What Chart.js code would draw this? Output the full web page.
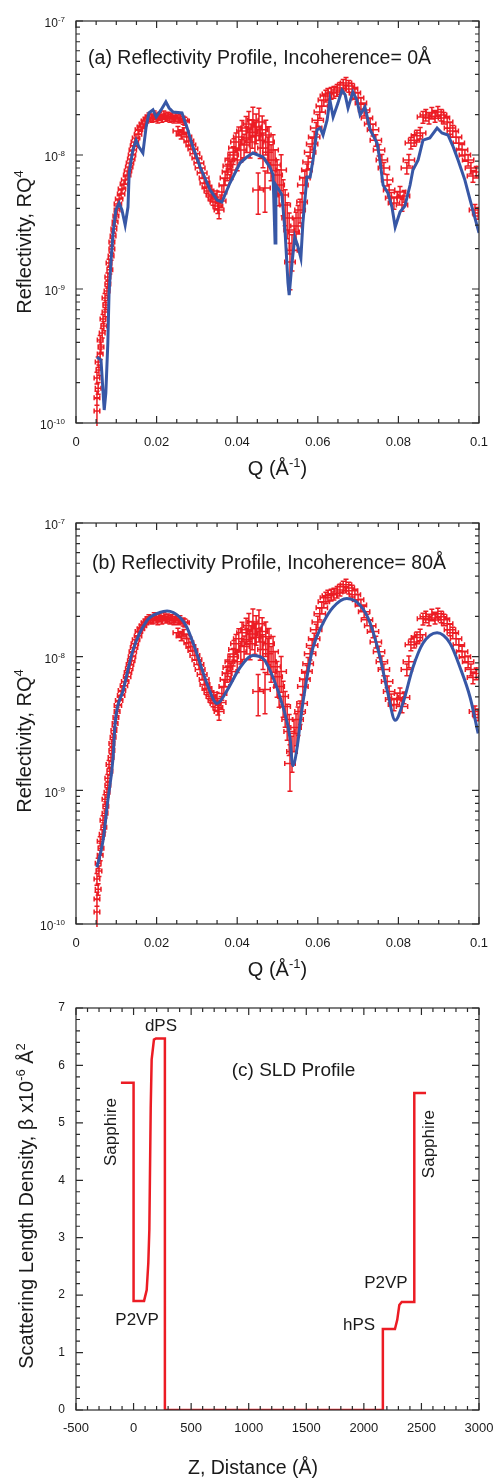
<!DOCTYPE html>
<html>
<head>
<meta charset="utf-8">
<script src="https://cdn.jsdelivr.net/npm/chart.js@4.4.1/dist/chart.umd.min.js"></script>
<style>
  html, body { margin: 0; padding: 0; background: #fff; }
  #wrap { position: relative; width: 493px; height: 1479px; }
  canvas { position: absolute; left: 0; }
</style>
</head>
<body>
<div id="wrap">
  <canvas id="chartA" width="493" height="490" style="top:0px"></canvas>
  <canvas id="chartB" width="493" height="490" style="top:490px"></canvas>
  <canvas id="chartC" width="493" height="499" style="top:980px"></canvas>
</div>
<script>
// measured reflectivity (same data in panels a and b)
const qData = [
  0.0052,0.0052,0.0055,0.0052,0.0057,0.0055,0.0060,0.0062,0.0060,0.0065,0.0069,0.0067,0.0072,0.0074,0.0072,0.0077,0.0079,0.0079,0.0084,0.0082,0.0087,0.0089,0.0089,0.0092,0.0094,0.0097,0.0099,0.0102,
  0.0104,0.0107,0.0112,0.0114,0.0119,0.0122,0.0127,0.0129,0.0132,0.0134,0.0137,0.0139,0.0141,0.0144,0.0146,0.0149,0.0154,0.0156,0.0161,0.0166,0.0171,0.0176,0.0181,0.0189,0.0194,0.0199,0.0203,0.0208,0.0213,0.0218,0.0223,0.0228,0.0233,0.0238,0.0243,0.0248,0.0253,0.0258,0.0266,0.0270,
  0.0253,0.0261,0.0268,0.0275,0.0280,0.0285,0.0290,0.0295,0.0300,0.0305,0.0308,0.0313,0.0318,0.0320,0.0325,0.0330,0.0335,0.0340,0.0345,0.0350,0.0352,0.0355,0.0360,0.0362,0.0367,0.0370,0.0375,0.0377,0.0382,0.0385,
  0.0390,0.0392,0.0397,0.0400,0.0404,0.0409,0.0412,0.0417,0.0422,0.0424,0.0429,0.0432,0.0437,0.0439,0.0444,0.0447,0.0452,0.0454,0.0457,0.0462,0.0464,0.0469,0.0471,0.0476,0.0479,0.0484,0.0489,0.0494,0.0499,0.0504,0.0509,0.0514,0.0519,0.0524,0.0529,0.0531,0.0536,0.0541,0.0546,0.0551,0.0556,0.0561,0.0563,0.0568,0.0573,0.0576,
  0.0581,0.0586,0.0591,0.0596,0.0600,0.0605,0.0610,0.0615,0.0620,0.0625,0.0633,0.0640,0.0648,0.0655,0.0663,0.0670,0.0677,0.0685,0.0692,0.0700,0.0707,0.0715,0.0722,0.0730,0.0737,0.0744,0.0752,0.0759,0.0764,0.0772,0.0777,0.0782,0.0789,0.0797,0.0804,0.0809,0.0814,0.0821,0.0826,0.0831,0.0839,0.0846,0.0854,0.0861,0.0868,0.0876,0.0883,0.0891,0.0898,0.0906,0.0913,0.0921,0.0928,0.0935,0.0943,0.0950,0.0958,0.0965,0.0973,0.0980,0.0985,0.0993,0.0990,0.0998
];
const rData = [
  1.23e-10,1.54e-10,1.82e-10,2.17e-10,2.49e-10,2.85e-10,3.27e-10,3.69e-10,4.16e-10,4.69e-10,5.30e-10,5.97e-10,6.74e-10,7.60e-10,8.57e-10,9.66e-10,1.09e-9,1.23e-9,1.39e-9,1.56e-9,1.76e-9,1.99e-9,2.24e-9,2.49e-9,2.80e-9,3.16e-9,3.51e-9,3.89e-9,
  4.31e-9,4.69e-9,5.12e-9,5.58e-9,6.07e-9,6.51e-9,7.09e-9,7.60e-9,8.13e-9,8.72e-9,9.33e-9,1.00e-8,1.09e-8,1.17e-8,1.25e-8,1.34e-8,1.43e-8,1.54e-8,1.62e-8,1.70e-8,1.79e-8,1.86e-8,1.92e-8,1.89e-8,1.99e-8,1.92e-8,1.86e-8,1.95e-8,1.89e-8,1.99e-8,1.92e-8,1.95e-8,1.89e-8,1.92e-8,1.86e-8,1.92e-8,1.86e-8,1.89e-8,1.82e-8,1.79e-8,
  1.51e-8,1.43e-8,1.48e-8,1.36e-8,1.27e-8,1.19e-8,1.11e-8,1.02e-8,9.50e-9,8.72e-9,8.00e-9,7.34e-9,6.74e-9,6.18e-9,5.77e-9,5.39e-9,5.03e-9,4.69e-9,4.46e-9,4.86e-9,4.16e-9,3.89e-9,4.54e-9,5.30e-9,5.97e-9,6.74e-9,7.47e-9,8.28e-9,9.18e-9,7.73e-9,
  1.00e-8,1.13e-8,1.25e-8,9.18e-9,1.36e-8,1.09e-8,1.51e-8,1.19e-8,1.59e-8,1.34e-8,1.70e-8,1.25e-8,1.48e-8,1.82e-8,1.39e-8,1.62e-8,5.48e-9,1.76e-8,1.29e-8,1.54e-8,1.13e-8,5.67e-9,1.41e-8,1.05e-8,1.25e-8,9.18e-9,1.09e-8,8.42e-9,7.09e-9,5.97e-9,7.73e-9,5.03e-9,4.23e-9,3.39e-9,2.76e-9,1.59e-9,1.95e-9,2.66e-9,2.95e-9,3.39e-9,3.89e-9,4.46e-9,5.97e-9,6.74e-9,7.73e-9,8.87e-9,
  1.05e-8,1.21e-8,1.36e-8,1.59e-8,1.82e-8,2.09e-8,2.32e-8,2.57e-8,2.76e-8,2.85e-8,2.90e-8,2.95e-8,3.05e-8,3.16e-8,3.33e-8,3.45e-8,3.27e-8,3.11e-8,2.90e-8,2.66e-8,2.44e-8,2.17e-8,1.89e-8,1.70e-8,1.54e-8,1.29e-8,1.09e-8,9.18e-9,8.00e-9,6.51e-9,5.48e-9,4.78e-9,4.38e-9,4.86e-9,5.30e-9,4.23e-9,4.94e-9,8.00e-9,9.18e-9,1.23e-8,1.29e-8,1.39e-8,1.46e-8,1.92e-8,1.99e-8,1.89e-8,2.06e-8,1.95e-8,2.09e-8,1.99e-8,1.89e-8,1.76e-8,1.59e-8,1.51e-8,1.36e-8,1.23e-8,1.09e-8,1.00e-8,9.18e-9,8.00e-9,6.97e-9,7.47e-9,3.89e-9,3.69e-9
];
// relative error of R, in percent
const rErrPct = [
  24,12,10,10,9,9,9,9,8,8,8,8,8,8,8,8,7,7,7,7,7,7,7,7,7,7,7,7,
  7,7,7,7,7,7,7,7,7,7,7,7,7,7,7,7,7,7,7,7,7,7,7,7,7,7,7,7,7,7,7,7,7,7,7,7,7,7,7,7,
  8,8,8,8,8,8,8,8,8,8,8,9,9,9,10,10,10,10,11,11,12,14,11,11,12,12,14,14,14,15,
  15,17,17,17,19,19,20,20,22,22,24,24,24,25,25,25,34,27,27,27,29,34,29,30,30,30,30,30,30,30,30,30,30,30,34,38,30,27,27,24,20,17,14,12,11,11,
  10,10,10,10,10,10,10,10,10,10,10,10,10,10,10,10,10,10,10,10,10,10,10,10,10,10,10,10,10,10,10,10,10,10,10,10,10,10,10,10,10,10,10,10,10,10,10,10,10,10,10,10,10,10,10,10,10,10,10,10,10,10,10,10
];
// Q resolution (half width), 1/A
const qErr = [
  0.0007,0.0007,0.0007,0.0007,0.0007,0.0007,0.0007,0.0007,0.0007,0.0007,0.0007,0.0007,0.0007,0.0007,0.0007,0.0007,0.0007,0.0007,0.0007,0.0007,0.0007,0.0007,0.0007,0.0007,0.0007,0.0007,0.0007,0.0007,
  0.0009,0.0009,0.0009,0.0009,0.0009,0.0009,0.0009,0.0009,0.0009,0.0009,0.0009,0.0009,0.0009,0.0009,0.0009,0.0009,0.0009,0.0009,0.0009,0.0009,0.0009,0.0009,0.0009,
  0.0011,0.0011,0.0011,0.0011,0.0011,0.0011,0.0011,0.0011,0.0011,0.0011,0.0011,0.0011,0.0011,0.0011,0.0011,0.0011,0.0011,
  0.0012,0.0012,0.0012,0.0012,0.0012,0.0012,0.0012,0.0012,0.0012,0.0012,0.0012,0.0012,0.0012,0.0012,0.0012,0.0012,0.0012,0.0012,0.0012,0.0012,0.0012,0.0012,0.0012,0.0012,0.0012,0.0012,0.0012,0.0012,0.0012,0.0012,
  0.0013,0.0013,0.0013,0.0013,0.0013,0.0013,0.0013,0.0013,0.0013,0.0013,0.0013,0.0013,0.0013,0.0013,0.0013,0.0013,0.0013,0.0013,0.0013,0.0013,0.0013,0.0013,0.0013,0.0013,0.0013,0.0013,0.0013,0.0013,0.0013,0.0013,0.0013,0.0013,0.0013,0.0013,0.0013,0.0013,0.0013,0.0013,0.0013,0.0013,0.0013,0.0013,0.0013,0.0013,0.0013,0.0013,
  0.0014,0.0014,0.0014,0.0014,0.0014,0.0014,0.0014,0.0014,0.0014,0.0014,0.0014,0.0014,0.0014,0.0014,0.0014,0.0014,0.0014,0.0014,0.0014,0.0014,0.0014,0.0014,0.0014,0.0014,0.0014,0.0014,0.0014,0.0014,0.0014,0.0014,0.0014,0.0014,
  0.0014,0.0014,0.0014,0.0014,0.0014,0.0014,0.0014,0.0014,0.0014,0.0014,0.0014,0.0014,0.0014,0.0014,0.0014,0.0014,0.0014,0.0014,0.0014,0.0014,0.0014,0.0014,0.0014,0.0014,0.0014,0.0014,0.0014,0.0014,0.0014,0.0014,0.0014,0.0014
];

// fit, incoherence 0 A
const fitAq = [0.0052,0.0062,0.0070,0.0074,0.0079,0.0082,0.0087,0.0092,0.0099,0.0107,0.0114,0.0122,0.0129,0.0132,0.0141,0.0149,0.0156,0.0166,0.0174,0.0181,0.0191,0.0199,0.0211,0.0223,0.0231,0.0241,0.0263,0.0275,0.0290,0.0308,0.0333,0.0350,0.0362,0.0382,0.0407,0.0424,0.0439,0.0464,0.0481,0.0489,0.0494,0.0496,0.0504,0.0511,0.0519,0.0526,0.0529,0.0536,0.0543,0.0551,0.0558,0.0563,0.0573,0.0581,0.0588,0.0598,0.0606,0.0613,0.0623,0.0630,0.0638,0.0650,0.0660,0.0668,0.0675,0.0687,0.0697,0.0705,0.0717,0.0730,0.0747,0.0754,0.0762,0.0774,0.0784,0.0792,0.0804,0.0816,0.0829,0.0836,0.0849,0.0861,0.0878,0.0896,0.0908,0.0923,0.0936,0.0948,0.0965,0.0978,0.1000];
const fitAr = [3.11e-10,2.95e-10,1.25e-10,1.67e-10,3.95e-10,9.33e-10,1.64e-9,2.62e-9,3.89e-9,4.38e-9,3.89e-9,3.00e-9,4.09e-9,7.34e-9,1.09e-8,1.29e-8,1.15e-8,1.035e-8,1.62e-8,2.06e-8,2.17e-8,1.92e-8,2.17e-8,2.49e-8,2.24e-8,2.09e-8,2.06e-8,1.62e-8,1.15e-8,8.13e-9,5.48e-9,4.61e-9,4.46e-9,6.18e-9,8.71e-9,9.66e-9,1.035e-8,9.66e-9,8.13e-9,7.10e-9,2.20e-9,5.97e-9,5.48e-9,5.03e-9,2.62e-9,1.11e-9,9.02e-10,1.56e-9,2.44e-9,2.06e-9,1.70e-9,3.11e-9,6.85e-9,6.85e-9,9.18e-9,1.54e-8,1.59e-8,1.41e-8,1.82e-8,2.57e-8,1.92e-8,2.44e-8,3.05e-8,2.81e-8,2.24e-8,2.95e-8,2.57e-8,1.99e-8,2.28e-8,1.54e-8,1.23e-8,9.18e-9,5.97e-9,5.20e-9,4.09e-9,2.90e-9,3.76e-9,4.16e-9,5.97e-9,7.73e-9,9.18e-9,1.29e-8,1.34e-8,1.59e-8,1.46e-8,1.41e-8,1.15e-8,9.18e-9,6.50e-9,4.61e-9,2.62e-9];

// fit, incoherence 80 A
const fitBq = [0.0052,0.0067,0.0079,0.0092,0.0097,0.0117,0.0141,0.0176,0.0208,0.0226,0.0258,0.0275,0.0300,0.0325,0.0350,0.0375,0.0407,0.0439,0.0464,0.0489,0.0514,0.0531,0.0538,0.0551,0.0556,0.0573,0.0588,0.0613,0.0638,0.0672,0.0705,0.0730,0.0754,0.0774,0.0792,0.0811,0.0836,0.0861,0.0896,0.0928,0.0953,0.0978,0.0998];
const fitBr = [2.65e-10,4.2e-10,8.4e-10,1.76e-9,3.16e-9,5.6e-9,1.11e-8,1.86e-8,2.14e-8,2.2e-8,1.97e-8,1.66e-8,1.05e-8,6.3e-9,4.47e-9,5.6e-9,8.3e-9,1.02e-8,9.7e-9,6.98e-9,4.17e-9,2.48e-9,1.53e-9,2.34e-9,3.16e-9,6.98e-9,1.17e-8,1.78e-8,2.34e-8,2.72e-8,2.42e-8,1.78e-8,1.0e-8,5.3e-9,3.34e-9,4.47e-9,8.3e-9,1.26e-8,1.51e-8,1.26e-8,8.3e-9,4.95e-9,2.66e-9];

// SLD profile
const zData = [-110,0,0,91,114,128,137,149,157,177,195,272,272,2165,2165,2270,2290,2308,2329,2438,2438,2540];
const sldData = [5.70,5.70,1.90,1.90,2.09,2.56,3.14,5.28,6.10,6.45,6.47,6.47,0,0,1.41,1.41,1.57,1.83,1.88,1.88,5.52,5.52];

// ticks
const qMajor = [0, 0.02, 0.04, 0.06, 0.08, 0.1];
const qMinorStep = 0.005;
const decades = [1e-10, 1e-9, 1e-8, 1e-7];
const logMinorMult = [2, 3, 4, 5, 6, 7, 8, 9];
const zMajor = [-500, 0, 500, 1000, 1500, 2000, 2500, 3000];
const zMinorStep = 100;
const sldMajor = [0, 1, 2, 3, 4, 5, 6, 7];
const sldMinorStep = 0.2;

const RED = '#ec1c24';
const BLUE = '#3757a6';
const FONT = "'Liberation Sans', Arial, Helvetica, sans-serif";
Chart.defaults.font.family = FONT;
Chart.defaults.color = '#1a1a1a';

function steps(lo, hi, st) {
  var out = [];
  for (var v = lo; v <= hi + st / 2; v += st) out.push(Math.round(v / st) * st);
  return out;
}
const qMinor = steps(0, 0.1, qMinorStep);
const logMinor = [];
decades.slice(0, 3).forEach(function (d) { logMinorMult.forEach(function (m) { logMinor.push(d * m); }); });

// text with superscripts: parts = [[text, isSup], ...]
function drawRich(ctx, parts, x, y, size, align, rot) {
  ctx.save();
  ctx.translate(x, y);
  if (rot) ctx.rotate(rot);
  var sup = Math.round(size * 0.66);
  var widths = [], w = 0;
  parts.forEach(function (p) {
    ctx.font = (p[1] ? sup : size) + 'px ' + FONT;
    var m = ctx.measureText(p[0]).width;
    widths.push(m); w += m;
  });
  var cx = align === 'left' ? 0 : align === 'right' ? -w : -w / 2;
  ctx.textAlign = 'left';
  ctx.textBaseline = 'alphabetic';
  ctx.fillStyle = '#1a1a1a';
  var base = size * 0.36;
  parts.forEach(function (p, i) {
    ctx.font = (p[1] ? sup : size) + 'px ' + FONT;
    ctx.fillText(p[0], cx, p[1] ? base - size * 0.42 : base);
    cx += widths[i];
  });
  ctx.restore();
}

// keep the plot box where the reference has it, whatever the labels need
function fixX(h) { return function (s) { s.height = h; s.paddingLeft = 0; s.paddingRight = 0; }; }
function fixY(w) { return function (s) { s.width = w; s.paddingTop = 0; s.paddingBottom = 0; }; }

const decor = {
  id: 'decor',
  afterDatasetDraw: function (chart, args) {
    var ds = chart.data.datasets[args.index];
    if (!ds.errR) return;
    var ctx = chart.ctx, a = chart.chartArea;
    var xs = chart.scales.x, ys = chart.scales.y;
    ctx.save();
    ctx.beginPath();
    ctx.rect(a.left, a.top, a.right - a.left, a.bottom - a.top + 3);
    ctx.clip();
    ctx.strokeStyle = ds.borderColor;
    ctx.lineWidth = 1.5;
    ctx.beginPath();
    ds.data.forEach(function (p, i) {
      var px = xs.getPixelForValue(p.x), py = ys.getPixelForValue(p.y);
      var dR = p.y * ds.errR[i] / 100;
      var y1 = ys.getPixelForValue(Math.max(p.y - dR, 1e-12)), y2 = ys.getPixelForValue(p.y + dR);
      var x1 = xs.getPixelForValue(p.x - ds.errQ[i]), x2 = xs.getPixelForValue(p.x + ds.errQ[i]);
      ctx.moveTo(x1, py); ctx.lineTo(x2, py);
      ctx.moveTo(px, y1); ctx.lineTo(px, y2);
      ctx.moveTo(px - 2.5, y1); ctx.lineTo(px + 2.5, y1);
      ctx.moveTo(px - 2.5, y2); ctx.lineTo(px + 2.5, y2);
      ctx.moveTo(x1, py - 2.5); ctx.lineTo(x1, py + 2.5);
      ctx.moveTo(x2, py - 2.5); ctx.lineTo(x2, py + 2.5);
    });
    ctx.stroke();
    ctx.restore();
  },
  afterDraw: function (chart, args, o) {
    var ctx = chart.ctx, a = chart.chartArea;
    var xs = chart.scales.x, ys = chart.scales.y;
    ctx.save();
    ctx.strokeStyle = '#2a2a2a';
    ctx.lineWidth = 1.2;
    ctx.strokeRect(a.left, a.top, a.right - a.left, a.bottom - a.top);
    ctx.beginPath();
    function marks(vals, len, horiz) {
      vals.forEach(function (v) {
        if (horiz) {
          var p = xs.getPixelForValue(v);
          ctx.moveTo(p, a.bottom); ctx.lineTo(p, a.bottom - len);
          ctx.moveTo(p, a.top); ctx.lineTo(p, a.top + len);
        } else {
          var q = ys.getPixelForValue(v);
          ctx.moveTo(a.left, q); ctx.lineTo(a.left + len, q);
          ctx.moveTo(a.right, q); ctx.lineTo(a.right - len, q);
        }
      });
    }
    marks(o.xMajor, 7, true); marks(o.xMinor, 4, true);
    marks(o.yMajor, 7, false); marks(o.yMinor, 4, false);
    ctx.stroke();
    ctx.restore();

    if (o.logLabels) {
      o.yMajor.forEach(function (v) {
        var e = Math.round(Math.log10(v));
        drawRich(ctx, [['10'], [String(e), 1]], a.left - 11, ys.getPixelForValue(v) + 2, 12, 'right');
      });
    }
    (o.titles || []).forEach(function (t) {
      drawRich(ctx, t.parts, t.x, t.y, t.size, 'center', t.rot ? -Math.PI / 2 : 0);
    });
    (o.notes || []).forEach(function (n) {
      drawRich(ctx, n.parts, xs.getPixelForValue(n.x), ys.getPixelForValue(n.y), n.size,
        n.align || 'center', n.rot ? -Math.PI / 2 : 0);
    });
  }
};

function pts(xs, ys) { return xs.map(function (x, i) { return { x: x, y: ys[i] }; }); }

function reflChart(id, fitQ, fitR, padTop, xHeight, tension, titleY, xTitleY, note) {
  return new Chart(document.getElementById(id), {
    type: 'scatter',
    data: {
      datasets: [
        { data: pts(fitQ, fitR), showLine: true, borderColor: BLUE, borderWidth: 3,
          pointRadius: 0, tension: tension, cubicInterpolationMode: tension ? 'monotone' : 'default' },
        { data: pts(qData, rData), borderColor: RED, pointRadius: 0, errR: rErrPct, errQ: qErr }
      ]
    },
    options: {
      responsive: false, animation: false, devicePixelRatio: 1, events: [],
      layout: { padding: { top: padTop, right: 14, left: 0, bottom: 0 } },
      scales: {
        x: {
          type: 'linear', min: 0, max: 0.1,
          grid: { display: false, drawTicks: false }, border: { display: false },
          ticks: { stepSize: 0.02, padding: 12, maxRotation: 0, autoSkip: false,
            font: { size: 13 }, color: '#1a1a1a',
            callback: function (v) { return String(Math.round(v * 1000) / 1000); } },
          afterFit: fixX(xHeight)
        },
        y: {
          type: 'logarithmic', min: 1e-10, max: 1e-7,
          grid: { display: false, drawTicks: false }, border: { display: false },
          ticks: { display: false },
          afterFit: fixY(76)
        }
      },
      plugins: {
        legend: { display: false }, tooltip: { enabled: false },
        decor: {
          xMajor: qMajor, xMinor: qMinor, yMajor: decades, yMinor: logMinor, logLabels: true,
          titles: [
            { parts: [['Reflectivity, RQ'], ['4', 1]], x: 24, y: titleY, size: 20, rot: true },
            { parts: [['Q (Å'], ['-1', 1], [')']], x: 277.5, y: xTitleY, size: 20 }
          ],
          notes: [note]
        }
      }
    },
    plugins: [decor]
  });
}

reflChart('chartA', fitAq, fitAr, 21, 67, 0, 242, 468,
  { parts: [['(a) Reflectivity Profile, Incoherence= 0Å']], x: 0.003, y: 5.39e-8, size: 19.5, align: 'left' });
reflChart('chartB', fitBq, fitBr, 33, 56, 0.3, 251, 479,
  { parts: [['(b) Reflectivity Profile, Incoherence= 80Å']], x: 0.004, y: 5.08e-8, size: 19.5, align: 'left' });

new Chart(document.getElementById('chartC'), {
  type: 'scatter',
  data: {
    datasets: [
      { data: pts(zData, sldData), showLine: true, borderColor: RED, borderWidth: 2.5, pointRadius: 0, tension: 0 }
    ]
  },
  options: {
    responsive: false, animation: false, devicePixelRatio: 1, events: [],
    layout: { padding: { top: 28, right: 14, left: 0, bottom: 0 } },
    scales: {
      x: {
        type: 'linear', min: -500, max: 3000,
        grid: { display: false, drawTicks: false }, border: { display: false },
        ticks: { stepSize: 500, padding: 11, maxRotation: 0, autoSkip: false,
          font: { size: 13 }, color: '#1a1a1a', callback: function (v) { return String(v); } },
        afterFit: fixX(69)
      },
      y: {
        type: 'linear', min: 0, max: 7,
        grid: { display: false, drawTicks: false }, border: { display: false },
        ticks: { stepSize: 1, padding: 11, font: { size: 12 }, color: '#1a1a1a',
          callback: function (v) { return String(v); } },
        afterFit: fixY(76)
      }
    },
    plugins: {
      legend: { display: false }, tooltip: { enabled: false },
      decor: {
        xMajor: zMajor, xMinor: steps(-500, 3000, zMinorStep),
        yMajor: sldMajor, yMinor: steps(0, 7, sldMinorStep), logLabels: false,
        titles: [
          { parts: [['Scattering Length Density, β x10'], ['-6', 1], [' Å'], ['2', 1]], x: 26, y: 226, size: 20, rot: true },
          { parts: [['Z, Distance (Å)']], x: 253, y: 487, size: 19.5 }
        ],
        notes: [
          { parts: [['dPS']], x: 238, y: 6.71, size: 17 },
          { parts: [['(c) SLD Profile']], x: 1389, y: 5.94, size: 19 },
          { parts: [['Sapphire']], x: -205, y: 4.84, size: 17, rot: true },
          { parts: [['Sapphire']], x: 2557, y: 4.63, size: 17, rot: true },
          { parts: [['P2VP']], x: 30, y: 1.59, size: 17 },
          { parts: [['P2VP']], x: 2192, y: 2.23, size: 17 },
          { parts: [['hPS']], x: 1958, y: 1.50, size: 17 }
        ]
      }
    }
  },
  plugins: [decor]
});
</script>
</body>
</html>
